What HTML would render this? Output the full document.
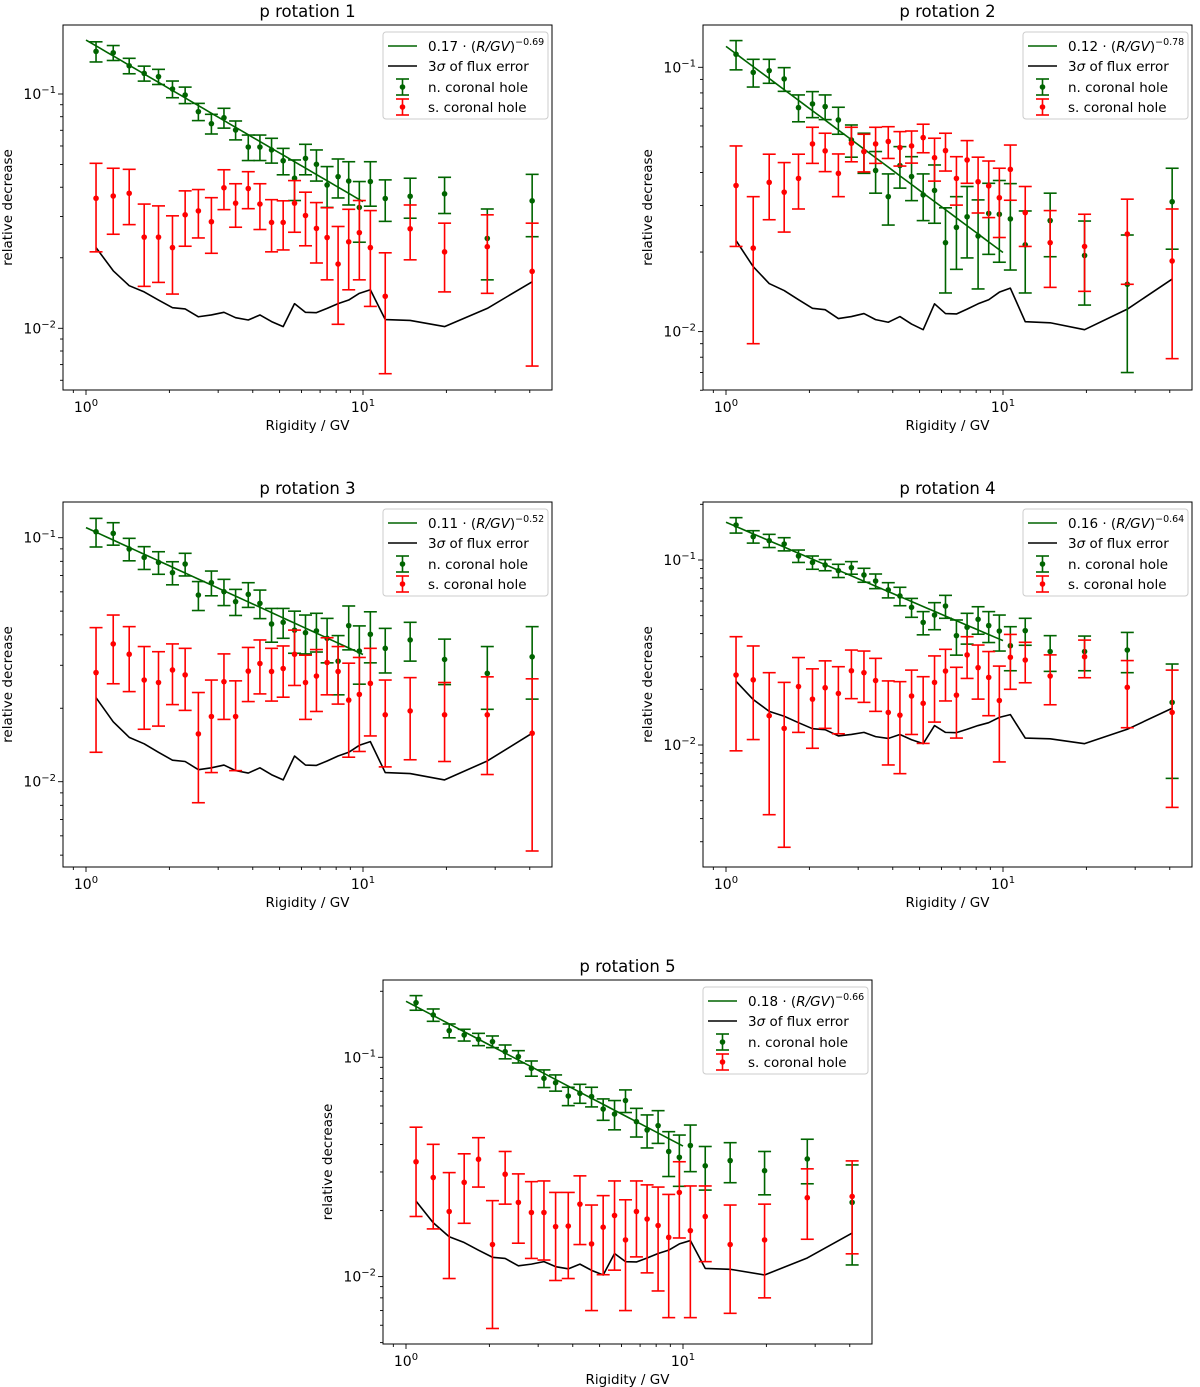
<!DOCTYPE html>
<html><head><meta charset="utf-8">
<style>
html,body{margin:0;padding:0;background:#fff;}
svg{display:block;font-family:"DejaVu Sans","Liberation Sans",sans-serif;}
</style></head>
<body>
<svg id="fig" width="1200" height="1387" viewBox="0 0 1200 1387" xmlns="http://www.w3.org/2000/svg"></svg>
<script>
// ---- data ----
const rigidity = [1.087,1.254,1.432,1.622,1.827,2.052,2.280,2.545,2.836,3.148,3.468,3.853,4.245,4.676,5.15,5.66,6.20,6.79,7.42,8.13,8.88,9.70,10.63,12.03,14.8,19.7,28.1,40.8];
const fluxErr3s = [0.0221,0.0176,0.0152,0.0143,0.0132,0.01225,0.0121,0.0112,0.0114,0.0117,0.0111,0.01085,0.0114,0.01068,0.01017,0.01274,0.0117,0.01166,0.01216,0.01274,0.0132,0.0141,0.0146,0.0109,0.0108,0.01017,0.01216,0.0158];
const fitAmp = [0.17,0.12,0.11,0.16,0.18];
const fitExp = [-0.69,-0.78,-0.52,-0.64,-0.66];
const fitLabels = ["0.17","0.12","0.11","0.16","0.18"];
const fitExpLabels = ["\u22120.69","\u22120.78","\u22120.52","\u22120.64","\u22120.66"];
const titles = ["p rotation 1","p rotation 2","p rotation 3","p rotation 4","p rotation 5"];

const north1 = [0.152,0.150,0.132,0.1225,0.1186,0.105,0.099,0.0841,0.0747,0.0792,0.0702,0.0594,0.0594,0.0577,0.0519,0.0437,0.0531,0.0501,0.0409,0.0444,0.0425,0.0328,0.0423,0.0358,0.0366,0.0375,0.0242,0.035];
const north1Err = [0.015,0.011,0.010,0.009,0.0088,0.0086,0.008,0.0071,0.0072,0.0077,0.0065,0.0074,0.0074,0.007,0.0067,0.0086,0.0079,0.0076,0.0081,0.0084,0.0089,0.0095,0.0091,0.0072,0.0071,0.0066,0.0081,0.0104];
const south1 = [0.0359,0.0367,0.0377,0.0245,0.0245,0.0221,0.0305,0.0317,0.0285,0.0398,0.0342,0.0395,0.0339,0.0283,0.0283,0.0342,0.0303,0.0267,0.0244,0.0188,0.0234,0.0256,0.0221,0.0137,0.0266,0.0212,0.0223,0.0175];
const south1Err = [0.0147,0.0115,0.0100,0.0094,0.0088,0.0081,0.0081,0.0074,0.0076,0.0077,0.0072,0.0071,0.0075,0.0071,0.0067,0.0085,0.0078,0.0077,0.0083,0.0084,0.0088,0.0095,0.0097,0.0073,0.0070,0.0069,0.0082,0.0106];

const north2 = [0.112,0.0957,0.0971,0.0904,0.0704,0.0727,0.071,0.0632,0.0531,0.048,0.0407,0.0324,0.0425,0.0386,0.0329,0.0342,0.0217,0.0248,0.0272,0.023,0.028,0.0278,0.0267,0.0213,0.0263,0.0194,0.0151,0.031];
const north2Err = [0.0142,0.0115,0.0101,0.0093,0.0082,0.0082,0.0076,0.0074,0.0074,0.0083,0.0073,0.0071,0.0076,0.0073,0.0066,0.0085,0.0077,0.0076,0.0082,0.0085,0.0084,0.0095,0.0096,0.0073,0.0071,0.0068,0.0081,0.0105];
const south2 = [0.0357,0.0207,0.0367,0.0337,0.038,0.0513,0.0483,0.0397,0.0516,0.048,0.0513,0.0524,0.0497,0.0504,0.0542,0.0455,0.0484,0.038,0.0446,0.0369,0.0356,0.0321,0.0411,0.0282,0.0217,0.021,0.0234,0.0185];
const south2Err = [0.0147,0.0117,0.0102,0.0099,0.0089,0.008,0.008,0.0073,0.0077,0.0078,0.008,0.0072,0.0074,0.007,0.0067,0.0084,0.0079,0.0079,0.0082,0.0088,0.0086,0.0094,0.0097,0.0072,0.007,0.0068,0.0083,0.0106];

const north3 = [0.1058,0.1042,0.0899,0.083,0.0792,0.0719,0.078,0.0582,0.0654,0.0601,0.0547,0.0586,0.0538,0.0443,0.045,0.0418,0.0408,0.0415,0.0387,0.0312,0.0436,0.0343,0.0402,0.0352,0.0381,0.0317,0.0278,0.0325];
const north3Err = [0.0142,0.011,0.0095,0.0089,0.0084,0.0078,0.0083,0.0079,0.0076,0.0074,0.0067,0.0068,0.0072,0.007,0.0063,0.0082,0.0074,0.0075,0.008,0.0085,0.0089,0.0092,0.0095,0.0073,0.0069,0.0067,0.008,0.0107];
const south3 = [0.028,0.0367,0.0333,0.0261,0.0255,0.0287,0.0274,0.0157,0.0185,0.0257,0.0185,0.0284,0.0305,0.0283,0.0291,0.0333,0.0255,0.0271,0.0308,0.0283,0.0216,0.0228,0.0253,0.0188,0.0195,0.0188,0.0188,0.0158];
const south3Err = [0.0148,0.0115,0.0099,0.0097,0.0086,0.008,0.0078,0.0075,0.0076,0.0077,0.0074,0.0071,0.0076,0.0069,0.0069,0.0085,0.0075,0.0077,0.0081,0.0075,0.009,0.0095,0.0099,0.0073,0.0072,0.0067,0.0081,0.0106];

const north4 = [0.1546,0.1337,0.1272,0.122,0.1051,0.0971,0.094,0.0876,0.0909,0.083,0.077,0.0689,0.0639,0.0555,0.046,0.0504,0.0564,0.039,0.0433,0.0478,0.0442,0.0413,0.0344,0.0415,0.032,0.032,0.0326,0.017];
const north4Err = [0.0148,0.0103,0.0104,0.010,0.0081,0.008,0.0065,0.0072,0.0071,0.0072,0.007,0.0065,0.0073,0.0065,0.0066,0.0084,0.008,0.0084,0.0082,0.0081,0.0084,0.0091,0.0092,0.0069,0.007,0.0068,0.008,0.0104];
const south4 = [0.0239,0.0225,0.0144,0.0123,0.0207,0.0177,0.0204,0.019,0.0252,0.0246,0.0223,0.015,0.0145,0.0184,0.0168,0.0218,0.0251,0.0186,0.0307,0.0262,0.0232,0.0174,0.0298,0.0288,0.0236,0.030,0.0205,0.015];
const south4Err = [0.0146,0.0118,0.0102,0.0095,0.009,0.0081,0.0081,0.0075,0.0074,0.0076,0.0071,0.0072,0.0075,0.007,0.0066,0.0085,0.0078,0.0077,0.0078,0.0085,0.0088,0.0093,0.0098,0.0071,0.0071,0.0069,0.0081,0.0104];

const north5 = [0.1775,0.156,0.1323,0.1264,0.1208,0.1179,0.1061,0.1007,0.0891,0.0802,0.0766,0.0666,0.0685,0.0662,0.0581,0.0551,0.0635,0.0509,0.0466,0.0488,0.0372,0.035,0.0396,0.032,0.0338,0.0304,0.0344,0.0218];
const north5Err = [0.0136,0.0101,0.0096,0.0078,0.0078,0.0072,0.0077,0.0065,0.0071,0.0074,0.0065,0.0064,0.0068,0.0068,0.0065,0.0084,0.0075,0.0076,0.008,0.0083,0.0086,0.0092,0.0095,0.0072,0.007,0.0068,0.0079,0.0105];
const south5 = [0.0334,0.0283,0.0198,0.0269,0.0343,0.014,0.0293,0.0218,0.0196,0.0196,0.0169,0.017,0.0214,0.0141,0.0168,0.019,0.0147,0.0198,0.0183,0.0171,0.0151,0.0242,0.0162,0.0188,0.014,0.0147,0.0229,0.0232];
const south5Err = [0.0146,0.0118,0.010,0.0094,0.0087,0.0082,0.0079,0.0076,0.0075,0.0077,0.0073,0.0072,0.0074,0.0071,0.0066,0.0083,0.0077,0.0075,0.0079,0.0085,0.0086,0.0092,0.0097,0.0071,0.0072,0.0067,0.0081,0.0105];

const northSets = [north1,north2,north3,north4,north5];
const northErrSets = [north1Err,north2Err,north3Err,north4Err,north5Err];
const southSets = [south1,south2,south3,south4,south5];
const southErrSets = [south1Err,south2Err,south3Err,south4Err,south5Err];

// ---- layout (pixels) ----
const panels = [
 {left:63, top:25, right:552, bottom:390, x0:86, y1:94, dec:234.3},
 {left:703, top:25, right:1192, bottom:390, x0:726, y1:67.3, dec:264.3},
 {left:63, top:502, right:552, bottom:867, x0:86, y1:537.7, dec:244},
 {left:703, top:502, right:1192, bottom:867, x0:726, y1:560, dec:185},
 {left:383, top:980, right:872, bottom:1344, x0:406, y1:1057.3, dec:219.3}
];
const XDEC = 277;
const GREEN = "#006400", RED = "#ff0000";
const NS = "http://www.w3.org/2000/svg";
const svg = document.getElementById("fig");

function mk(tag, attrs, parent){
  const e = document.createElementNS(NS, tag);
  for (const k in attrs) e.setAttribute(k, attrs[k]);
  (parent||svg).appendChild(e);
  return e;
}
function sup(parent, base, supTxt, fs, sfs){
  const t1 = document.createElementNS(NS,"tspan"); t1.textContent = base; parent.appendChild(t1);
  const t2 = document.createElementNS(NS,"tspan"); t2.setAttribute("dy", -fs*0.42); t2.setAttribute("font-size", sfs); t2.textContent = supTxt; parent.appendChild(t2);
}

panels.forEach((p, pi) => {
  const xs = v => p.x0 + Math.log10(v)*XDEC;
  const ys = v => p.y1 + (-1 - Math.log10(v))*p.dec;
  const g = mk("g", {});
  
  

  const cp = mk("clipPath", {id:"clip"+pi}, g);
  mk("rect", {x:p.left, y:p.top, width:p.right-p.left, height:p.bottom-p.top}, cp);

  // title
  const tt = mk("text", {x:(p.left+p.right)/2, y:p.top-8, "text-anchor":"middle", "font-size":16.5, fill:"#000"}, g);
  tt.textContent = titles[pi];
  
  

  // x ticks
  const xg = mk("g", {}, g);
  
  
  for (let d=-1; d<=2; d++){
    for (let m=1; m<=9; m++){
      const v = m*Math.pow(10,d);
      const x = xs(v);
      if (x < p.left-0.5 || x > p.right+0.5) continue;
      const major = m===1;
      mk("line", {x1:x, x2:x, y1:p.bottom, y2:p.bottom+(major?5:3), stroke:"#000", "stroke-width":0.9}, xg);
      if (major){
        const t = mk("text", {x:x, y:p.bottom+22, "text-anchor":"middle", "font-size":14, fill:"#000"}, xg);
        sup(t, "10", String(d), 14, 10);
        
        
      }
    }
  }
  const xl = mk("text", {x:(p.left+p.right)/2, y:p.bottom+40, "text-anchor":"middle", "font-size":13.5, fill:"#000"}, g);
  xl.textContent = "Rigidity / GV";
  
  

  // y ticks
  const yg = mk("g", {}, g);
  
  
  for (let d=-4; d<=0; d++){
    for (let m=1; m<=9; m++){
      const v = m*Math.pow(10,d);
      const y = ys(v);
      if (y < p.top-0.5 || y > p.bottom+0.5) continue;
      const major = m===1;
      mk("line", {x1:p.left, x2:p.left-(major?5:3), y1:y, y2:y, stroke:"#000", "stroke-width":0.9}, yg);
      if (major){
        const t = mk("text", {x:p.left-7, y:y+5, "text-anchor":"end", "font-size":14, fill:"#000"}, yg);
        sup(t, "10", "\u2212"+(-d), 14, 10);
        
        
      }
    }
  }
  const ycy = (p.top+p.bottom)/2, ycx = p.left-51;
  const yl = mk("text", {x:ycx, y:ycy, "text-anchor":"middle", "font-size":13.5, fill:"#000", transform:`rotate(-90 ${ycx} ${ycy})`}, g);
  yl.textContent = "relative decrease";
  
  

  const plot = mk("g", {"clip-path":`url(#clip${pi})`}, g);
  
  

  // fit line from R=1 to R=10
  const fitPts = [];
  for (let i=0;i<=40;i++){ const r = Math.pow(10, i/40); fitPts.push(xs(r)+","+ys(fitAmp[pi]*Math.pow(r, fitExp[pi]))); }
  const fl = mk("polyline", {points:fitPts.join(" "), fill:"none", stroke:GREEN, "stroke-width":1.6}, plot);
  
  

  // 3 sigma flux error line
  const bl = mk("polyline", {points:rigidity.map((r,i)=>xs(r)+","+ys(fluxErr3s[i])).join(" "), fill:"none", stroke:"#000", "stroke-width":1.6, "stroke-linejoin":"round"}, plot);
  
  

  function errSeries(vals, errs, color, name){
    const sg = mk("g", {}, plot);
    
    
    vals.forEach((v,i)=>{
      const x = xs(rigidity[i]);
      const lo = v - errs[i], hi = v + errs[i];
      const yT = ys(hi), yB = lo>0 ? ys(lo) : p.bottom+20, yC = ys(v);
      const eg = mk("g", {}, sg);
      
      
      mk("line", {x1:x, x2:x, y1:yT, y2:yB, stroke:color, "stroke-width":1.6}, eg);
      mk("line", {x1:x-6.5, x2:x+6.5, y1:yT, y2:yT, stroke:color, "stroke-width":1.6}, eg);
      mk("line", {x1:x-6.5, x2:x+6.5, y1:yB, y2:yB, stroke:color, "stroke-width":1.6}, eg);
      mk("circle", {cx:x, cy:yC, r:2.8, fill:color}, eg);
    });
  }
  errSeries(northSets[pi], northErrSets[pi], GREEN, 'n-coronal-hole-series');
  errSeries(southSets[pi], southErrSets[pi], RED, 's-coronal-hole-series');

  // spines
  const sp = mk("rect", {x:p.left, y:p.top, width:p.right-p.left, height:p.bottom-p.top, fill:"none", stroke:"#000", "stroke-width":1}, g);
  
  

  // legend
  const lg = mk("g", {}, g);
  
  
  const bx = p.right-169, by = p.top+7;
  mk("rect", {x:bx, y:by, width:165, height:87, rx:3, fill:"#fff", "fill-opacity":0.85, stroke:"#ccc", "stroke-width":1}, lg);
  const hx1 = p.right-164, hx2 = p.right-135, tx = p.right-124;
  const rows = [p.top+21, p.top+41, p.top+62, p.top+82];
  // entry 1
  const e1 = mk("g", {}, lg);
  
  
  mk("line", {x1:hx1, x2:hx2, y1:rows[0], y2:rows[0], stroke:GREEN, "stroke-width":1.6}, e1);
  const t1 = mk("text", {x:tx, y:rows[0]+5, "font-size":13.5, fill:"#000"}, e1);
  const a = document.createElementNS(NS,"tspan"); a.textContent = fitLabels[pi]+" \u00b7 ("; t1.appendChild(a);
  const b = document.createElementNS(NS,"tspan"); b.setAttribute("font-style","italic"); b.textContent = "R/GV"; t1.appendChild(b);
  const c = document.createElementNS(NS,"tspan"); c.textContent = ")"; t1.appendChild(c);
  const d = document.createElementNS(NS,"tspan"); d.setAttribute("dy",-6); d.setAttribute("font-size",9.5); d.textContent = fitExpLabels[pi]; t1.appendChild(d);
  // entry 2
  const e2 = mk("g", {}, lg);
  
  
  mk("line", {x1:hx1, x2:hx2, y1:rows[1], y2:rows[1], stroke:"#000", "stroke-width":1.6}, e2);
  const t2 = mk("text", {x:tx, y:rows[1]+5, "font-size":13.5, fill:"#000"}, e2);
  const s1 = document.createElementNS(NS,"tspan"); s1.textContent = "3"; t2.appendChild(s1);
  const s2 = document.createElementNS(NS,"tspan"); s2.setAttribute("font-style","italic"); s2.textContent = "\u03c3"; t2.appendChild(s2);
  const s3 = document.createElementNS(NS,"tspan"); s3.textContent = " of flux error"; t2.appendChild(s3);
  // entries 3,4
  [[GREEN,"n. coronal hole",rows[2],'legend-entry-n-coronal-hole'],[RED,"s. coronal hole",rows[3],'legend-entry-s-coronal-hole']].forEach(([col,txt,ry,nm])=>{
    const eg = mk("g", {}, lg);
    
    
    const cx = (hx1+hx2)/2;
    mk("line", {x1:cx, x2:cx, y1:ry-8, y2:ry+8, stroke:col, "stroke-width":1.6}, eg);
    mk("line", {x1:cx-6.5, x2:cx+6.5, y1:ry-8, y2:ry-8, stroke:col, "stroke-width":1.6}, eg);
    mk("line", {x1:cx-6.5, x2:cx+6.5, y1:ry+8, y2:ry+8, stroke:col, "stroke-width":1.6}, eg);
    mk("circle", {cx:cx, cy:ry, r:2.8, fill:col}, eg);
    const t = mk("text", {x:tx, y:ry+5, "font-size":13.5, fill:"#000"}, eg);
    t.textContent = txt;
  });
});
</script>
</body></html>
